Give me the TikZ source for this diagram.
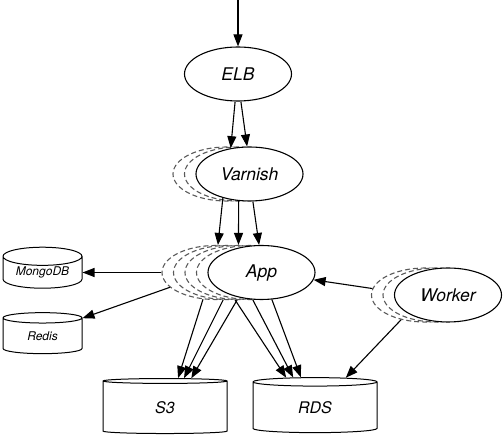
\documentclass[tikz,border=0pt]{standalone}
\usepackage{fontspec}
\setmainfont{TeX Gyre Heros}
\usetikzlibrary{arrows.meta,shapes.geometric,calc}

\begin{document}
\begin{tikzpicture}[x=1pt,y=-1pt,>={Triangle[length=12pt,width=9pt]},
  inst/.style={ellipse,draw,line width=1.1pt,fill=white,minimum width=107pt,
    minimum height=54pt,inner sep=0pt,font=\fontsize{17.5}{20}\selectfont\itshape},
  ghost/.style={ellipse,draw=black!65,dash pattern=on 5pt off 3pt,line width=1.1pt,
    fill=white,minimum width=107pt,minimum height=54pt,inner sep=0pt},
  store/.style={cylinder,shape border rotate=90,draw,line width=1pt,aspect=0.34,
    inner sep=0pt,font=\fontsize{12}{14}\selectfont\itshape,
    minimum width=79pt,minimum height=41pt},
  bigstore/.style={store,aspect=0.25,font=\fontsize{16}{18}\selectfont\itshape,
    minimum width=124pt,minimum height=55pt},
  link/.style={->,line width=1.1pt}]
  \useasboundingbox (0,0) rectangle (504,438);

  % stacked instances behind the front ellipses
  \foreach \i in {1,2}
    \node[ghost] (varnish\i) at ({249.5-11.5*(3-\i)},174) {};
  \foreach \i in {1,...,4}
    \node[ghost] (app\i) at ({261.5-11.5*(5-\i)},272.5) {};
  \foreach \i in {1,2}
    \node[ghost] (worker\i) at ({448-11.5*(3-\i)},295) {};

  \node[inst] (elb) at (238,74) {ELB};
  \node[inst] (varnish) at (249.5,174) {Varnish};
  \node[inst] (app) at (261.5,272.5) {App};
  \node[inst] (worker) at (448,295) {Worker};

  \node[store] (mongo) at (42.5,272.5) {MongoDB};
  \node[store] (redis) at (42.5,336) {Redis};
  \node[bigstore] (s3) at (165,407.5) {S3};
  \node[bigstore] (rds) at (315,407.5) {RDS};

  \coordinate (in) at (238,0);
  \draw[link] (in) -- (elb.north);
  \draw[link] (elb.-96) -- (varnish.126);
  \draw[link] (elb.-84) -- (varnish.95);

  \draw[link] (varnish.-138) -- (app1.85);
  \draw[link] (varnish.-112) -- (app3.90);
  \draw[link] (varnish.-83) -- (app.95);

  \draw[link] (app1.west) -- (app1.west -| mongo.east);
  \draw[link] (app1.-162) -- (redis.24);

  \draw[link] (app1.-115) -- (s3.66);
  \draw[link] (app2.-98) -- (s3.57);
  \draw[link] (app3.-93) -- (s3.48);
  \draw[link] (app3.-97) -- (rds.134);
  \draw[link] (app4.-84) -- (rds.126);
  \draw[link] (app.-69) -- (rds.115);

  \draw[link] (worker1.173) -- (app.-8);
  \draw[link] (worker1.-134) -- (rds.44);
\end{tikzpicture}
\end{document}
